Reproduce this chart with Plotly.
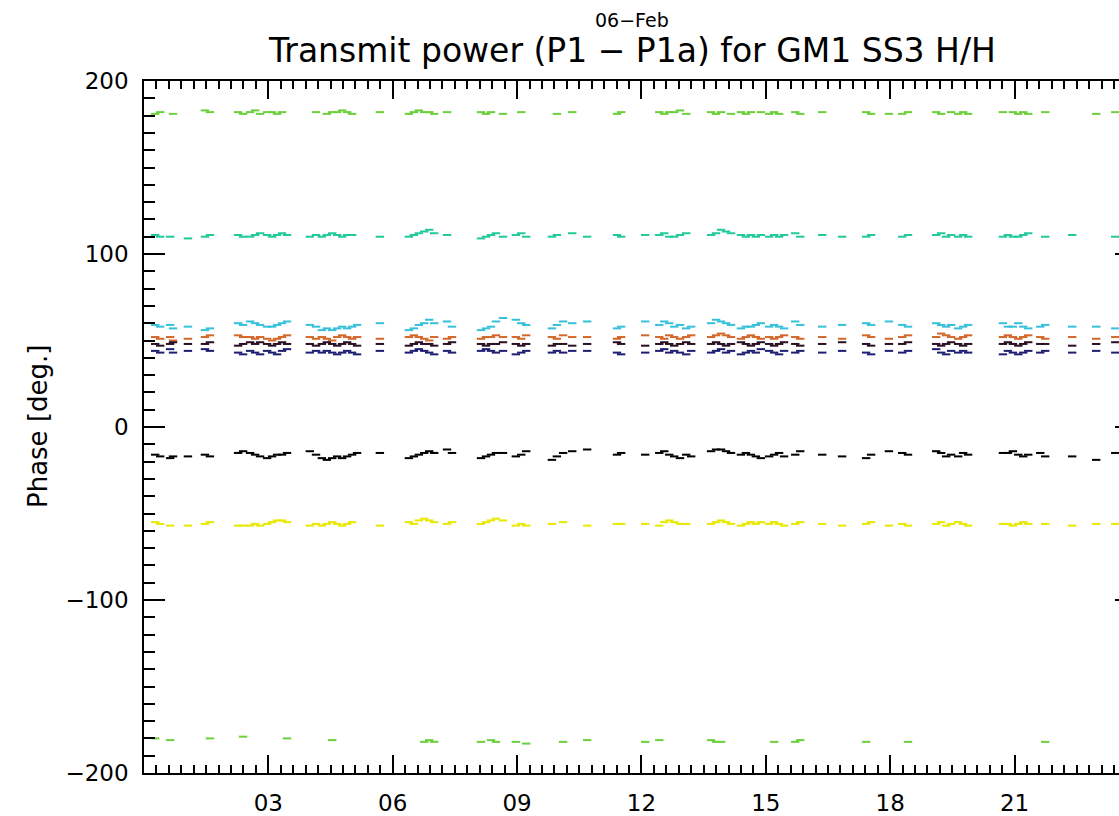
import plotly.graph_objects as go

N = None

# time of day in hours
hours = [0.27, 0.39, 0.63, 0.70, 1.06, 1.47, 1.59, 2.27, 2.39, 2.56,
         2.68, 2.80, 2.97, 3.09, 3.21, 3.33, 3.45, 4.00, 4.15, 4.29,
         4.41, 4.54, 4.66, 4.78, 4.90, 5.02, 5.14, 5.69, 6.39, 6.51,
         6.63, 6.76, 6.88, 7.00, 7.31, 7.43, 8.13, 8.25, 8.37, 8.49,
         8.66, 8.97, 9.10, 9.22, 9.84, 9.96, 10.11, 10.33, 10.69, 11.41,
         11.51, 12.09, 12.43, 12.55, 12.67, 12.79, 12.93, 13.08, 13.20, 13.68,
         13.80, 13.92, 14.04, 14.16, 14.40, 14.52, 14.64, 14.76, 14.88, 15.08,
         15.20, 15.32, 15.44, 15.71, 15.83, 16.36, 16.84, 17.42, 17.54, 17.97,
         18.29, 18.43, 19.11, 19.23, 19.35, 19.47, 19.64, 19.76, 19.88, 20.72,
         20.84, 20.96, 21.09, 21.21, 21.33, 21.62, 21.74, 22.39, 22.97, 23.43]

phase_green_top = [181, 182, N, 181, N, 183, 182, 182, 181, 182,
                   183, 181, 182, 182, 181, 182, N, N, 182, N,
                   181, 182, 182, 183, 182, 181, N, 182, 181, 182,
                   183, 182, 182, 181, 182, N, 182, 181, 182, N,
                   181, N, 182, N, N, 181, N, 182, N, 181,
                   182, N, 182, 181, 182, 182, 183, 181, N, 182,
                   181, 182, N, 181, 182, 181, 182, N, 182, 181,
                   182, 181, N, 182, 181, 182, N, 182, 181, 181,
                   181, 182, 182, 181, N, 182, 181, 182, 181, 182,
                   N, 182, 181, 182, 181, N, 182, N, 181, 182]

phase_teal = [111, 110, 110, N, 109, 110, 111, 111, 110, 110,
              111, 112, 111, 110, 111, 112, 111, 110, 111, 110,
              111, 112, 111, 110, 111, 111, N, 110, 110, 111,
              112, 113, 114, 112, 111, N, 109, 110, 111, 112,
              110, 111, 112, 110, 110, 111, N, 112, 110, 111,
              110, 111, 111, 112, 110, 110, 111, 112, N, 111,
              112, 114, 113, 112, 111, 110, 111, 110, 111, 110,
              111, 110, 111, 112, 110, 111, 110, 110, 111, N,
              110, 111, 111, 112, 110, 111, 110, 111, 110, 110,
              111, 110, 110, 111, 112, N, 110, 111, N, 110]

phase_cyan = [59, 58, 59, 57, 58, 56, 57, 60, 59, 61,
              60, 59, 58, 58, 59, 60, 61, 59, 58, 56,
              57, 56, 57, 58, 57, 58, 59, 60, 56, 57,
              59, 60, 62, 60, 61, 58, 56, 57, 58, 61,
              63, 62, 60, 59, 57, 59, 61, 60, 61, 57,
              58, 61, 59, 61, 60, 58, 59, 57, 58, 60,
              62, 61, 60, 59, 57, 58, 58, 59, 60, 58,
              59, 58, 57, 61, 59, 58, 59, 60, 59, 61,
              59, 58, 60, 59, 58, 59, 57, 58, 59, 60,
              58, 58, 60, 58, 57, 58, 59, 58, 58, 57]

phase_orange = [52, 51, 52, 50, 51, 52, 53, 53, 52, 52,
                51, 52, 51, 50, 51, 52, 53, 52, 51, 52,
                51, 50, 52, 53, 52, 51, 52, 51, 52, 53,
                52, 51, 50, 52, 51, 52, 51, 52, 52, 53,
                52, 52, 51, 53, 52, 51, 53, 52, 52, 51,
                52, 53, 52, 51, 53, 52, 51, 52, 53, 52,
                53, 54, 53, 52, 51, 52, 53, 52, 51, 52,
                51, 52, 53, 52, 51, 52, 51, 53, 52, 51,
                52, 53, 52, 54, 53, 52, 51, 52, 53, 52,
                53, 52, 51, 52, 53, 52, 51, 52, 51, 52]

phase_dark = [48, 47, 48, 49, 48, 48, 49, 47, 48, 49,
              48, 49, 48, 47, 48, 49, 48, 48, 47, 48,
              49, 48, 47, 48, 49, 48, 47, 48, 47, 48,
              49, 48, 48, 47, 48, 49, 48, 47, 48, 48,
              49, 48, 47, 48, 47, 48, 48, 47, 48, 49,
              48, 47, 48, 49, 48, 47, 48, 49, 48, 48,
              49, 48, 47, 48, 49, 48, 47, 48, 49, 48,
              47, 48, 49, 48, 47, 48, 49, 48, 47, 48,
              48, 49, 48, 47, 48, 49, 48, 47, 48, 48,
              49, 48, 47, 48, 49, 48, 48, 47, 48, 49]

phase_navy = [44, 43, 45, 43, 44, 45, 44, 43, 42, 44,
              43, 42, 44, 43, 42, 44, 45, 43, 44, 43,
              44, 43, 42, 43, 44, 43, 42, 44, 43, 44,
              45, 44, 43, 42, 44, 43, 44, 45, 44, 43,
              44, 42, 43, 44, 43, 44, 43, 44, 44, 43,
              42, 43, 44, 45, 43, 44, 43, 42, 44, 43,
              44, 45, 43, 44, 42, 43, 44, 43, 45, 44,
              43, 42, 44, 43, 44, 43, 44, 43, 42, 44,
              43, 44, 45, 43, 42, 44, 43, 44, 43, 42,
              44, 43, 42, 43, 44, 43, 44, 43, 44, 43]

phase_black = [-16, -17, -18, -17, -17, -16, -17, -15, -14, -15,
               -16, -17, -18, -17, -16, -16, -15, -14, -16, -18,
               -19, -18, -17, -18, -17, -16, -15, -15, -18, -17,
               -16, -15, -14, -15, -13, -15, -18, -17, -16, -15,
               -15, -17, -16, -14, -19, -17, -15, -14, -13, -16,
               -15, -16, -15, -14, -16, -17, -18, -16, -17, -14,
               -13, -13, -14, -15, -16, -15, -16, -17, -18, -17,
               -16, -15, -17, -16, -14, -16, -17, -18, -16, -14,
               -15, -16, -14, -15, -17, -16, -17, -15, -16, -15,
               -15, -14, -16, -17, -16, -15, -17, -17, -19, -15]

phase_yellow = [-55, -56, -57, N, -57, -56, -55, -57, -57, -57,
                -56, -57, -56, -55, -54, -54, -55, -57, -56, -57,
                -56, -55, -56, -57, -56, -55, N, -57, -55, -56,
                -54, -53, -54, -55, -56, -55, -56, -55, -54, -53,
                -54, -57, -56, -57, -56, N, -55, N, -57, -56,
                -56, -56, -57, -55, -54, -55, -56, -56, N, -56,
                -55, -54, -55, -56, -57, -56, -55, -56, -55, -56,
                -55, -56, -57, -56, -55, -56, -57, -56, -55, -57,
                -56, -57, -56, -55, -57, -56, -55, -56, -57, -56,
                -56, -57, -56, -55, -56, N, -56, -57, -56, -56]

phase_green_bottom = [-180, N, -181, N, N, N, -180, N, -179, N,
                      N, N, N, N, N, N, -180, N, N, N,
                      N, -181, N, N, N, N, N, N, N, N,
                      N, -182, -181, -182, N, N, -182, N, -181, -182,
                      N, -182, N, -183, N, N, -182, N, -181, N,
                      N, -182, -181, N, N, N, N, N, N, -181,
                      -182, -182, N, N, N, N, N, N, N, N,
                      -182, N, N, -182, -181, N, N, -182, N, N,
                      N, -182, N, N, N, N, N, N, N, N,
                      N, N, N, N, N, N, -182, N, N, N]

series = [
    ("green (wrapped +)", phase_green_top, "#6ccf3c"),
    ("green (wrapped -)", phase_green_bottom, "#6ccf3c"),
    ("teal", phase_teal, "#22c99a"),
    ("cyan", phase_cyan, "#36c0da"),
    ("orange", phase_orange, "#d4682a"),
    ("dark", phase_dark, "#2a1022"),
    ("navy", phase_navy, "#1e1e72"),
    ("black", phase_black, "#000000"),
    ("yellow", phase_yellow, "#e8e800"),
]

fig = go.Figure()
for name, vals, col in series:
    fig.add_trace(go.Scatter(
        x=hours, y=vals, mode="markers", name=name, showlegend=False,
        marker=dict(symbol="line-ew", size=6, color=col,
                    line=dict(width=2, color=col)),
    ))

# empty trace to carry the right-hand tick axis
fig.add_trace(go.Scatter(x=[], y=[], yaxis="y2", showlegend=False, hoverinfo="skip"))

FONT = "DejaVu Sans"
x_ticks = [3, 6, 9, 12, 15, 18, 21]
x_labels = ["03", "06", "09", "12", "15", "18", "21"]
y_ticks = [-200, -100, 0, 100, 200]

fig.update_layout(
    width=1119, height=816,
    margin=dict(l=144, r=0, t=81, b=41, pad=0),
    paper_bgcolor="white", plot_bgcolor="white",
    font=dict(family=FONT, size=23, color="black"),
    xaxis=dict(
        range=[0, 23.52], tickmode="array", tickvals=x_ticks, ticktext=x_labels,
        ticks="inside", ticklen=18, tickwidth=1.5, tickcolor="black",
        showline=True, linecolor="black", linewidth=1.5, mirror="ticks",
        showgrid=False, zeroline=False, ticklabelstandoff=9,
        tickfont=dict(family=FONT, size=23),
        minor=dict(tickmode="linear", tick0=0, dtick=0.3, ticks="inside",
                   ticklen=8, tickwidth=1.5, tickcolor="black", showgrid=False),
    ),
    yaxis=dict(
        range=[-200, 200], tickmode="array", tickvals=y_ticks,
        ticks="inside", ticklen=21, tickwidth=1.5, tickcolor="black",
        showline=True, linecolor="black", linewidth=1.5, mirror=False,
        showgrid=False, zeroline=False, ticklabelstandoff=9,
        tickfont=dict(family=FONT, size=23),
        minor=dict(tickmode="linear", tick0=0, dtick=10, ticks="inside",
                   ticklen=11, tickwidth=1.5, tickcolor="black", showgrid=False),
    ),
    yaxis2=dict(
        overlaying="y", side="right", range=[-200, 200],
        tickmode="array", tickvals=y_ticks, ticks="inside", ticklen=4,
        tickwidth=1.5, tickcolor="black", showticklabels=False,
        showline=False, showgrid=False, zeroline=False,
    ),
    annotations=[
        dict(text="06\u2212Feb", xref="paper", yref="paper", x=0.5, y=1.0885,
             xanchor="center", yanchor="middle", showarrow=False,
             font=dict(family=FONT, size=19)),
        dict(text="Transmit power (P1 \u2212 P1a) for GM1 SS3 H/H",
             xref="paper", yref="paper", x=0.5, y=1.0435,
             xanchor="center", yanchor="middle", showarrow=False,
             font=dict(family=FONT, size=33)),
        dict(text="Phase [deg.]", xref="paper", yref="paper", x=-0.1087, y=0.5,
             xanchor="center", yanchor="middle", textangle=-90, showarrow=False,
             font=dict(family=FONT, size=26)),
    ],
)

# remove the page's default 8px body margin so the figure sits at the window origin
fig.write_html("out.html", config={"displayModeBar": False},
               post_script="document.body.style.margin='0';")
